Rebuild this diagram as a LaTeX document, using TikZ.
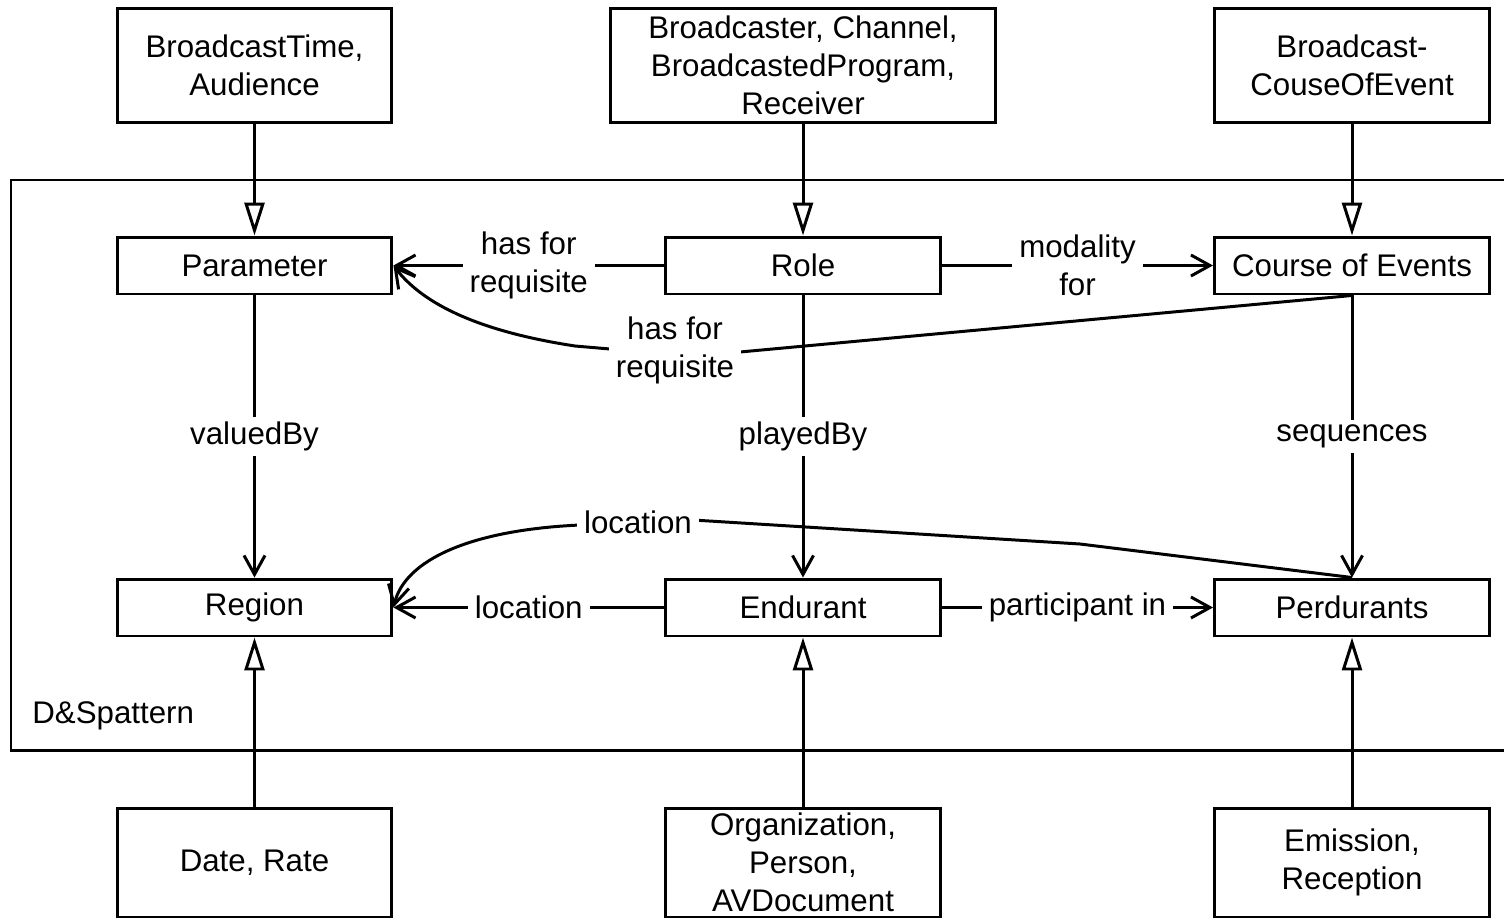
\documentclass[tikz,border=0pt]{standalone}
\usepackage{fontspec}
\setmainfont{Liberation Sans}
\usetikzlibrary{arrows.meta}
\tikzset{
  box/.style={draw, minimum width=5.5cm, minimum height=1.14cm, inner sep=0pt, align=center},
  tallbox/.style={box, minimum height=2.3cm},
  lbl/.style={fill=white, inner xsep=4pt, inner ysep=3pt, align=center},
  rel/.style={-{Straight Barb[length=0.38cm,width=0.42cm]}},
  isa/.style={-{Triangle[open,length=0.66cm,width=0.4cm]}},
}
\begin{document}
\begin{tikzpicture}[x=0.02cm, y=-0.02cm, line width=1.7pt,
    font=\fontsize{17.8}{21.8}\selectfont]
      \useasboundingbox (0,0) rectangle (1504,919);
      % pattern frame
      \draw (1504,180) -- (11,180) -- (11,750) -- (1504,750);
      \node[anchor=base west] (dsp) at (25,723) {D\&Spattern};
      \path
        (254.5,65.5) node[tallbox] (ta){BroadcastTime,\\Audience}
        (803,65.5) node[tallbox, minimum width=7.72cm] (tb){Broadcaster, Channel,\\BroadcastedProgram,\\Receiver}
        (1352,65.5) node[tallbox] (tc){Broadcast-\\CouseOfEvent}
        (254.5,265.5) node[box] (param){Parameter}
        (803,265.5) node[box] (role){Role}
        (1352,265.5) node[box] (coe){Course of Events}
        (254.5,607.5) node[box] (region){Region}
        (803,607.5) node[box] (endur){Endurant}
        (1352,607.5) node[box] (perd){Perdurants}
        (254.5,862.5) node[tallbox, minimum height=2.18cm] (ba){Date, Rate}
        (803,862.5) node[tallbox, minimum height=2.18cm] (bb){Organization,\\Person,\\AVDocument}
        (1352,862.5) node[tallbox, minimum height=2.18cm] (bc){Emission,\\Reception};
      \begin{scope}[isa]
        \draw (ta) to (param);
        \draw (tb) to (role);
        \draw (tc) to (coe);
        \draw (ba) to (region);
        \draw (bb) to (endur);
        \draw (bc) to (perd);
      \end{scope}
      \begin{scope}[rel]
        \draw (role) to node[lbl]{has for\\requisite} (param);
        \draw (role) to node[lbl]{modality\\for} (coe);
        \draw (param) to node[lbl]{valuedBy} (region);
        \draw (role) to node[lbl]{playedBy} (endur);
        \draw (coe) to node[lbl]{sequences} (perd);
        \draw (endur) to node[lbl]{location} (region);
        \draw (endur) to node[lbl]{participant in} (perd);
        \draw (coe.south) -- (740,352) -- node[lbl]{has for\\requisite} (610,349)
          -- (575,346) .. controls (470,330) and (420,300) .. (param.east);
        \draw (perd.north) -- (1080,544) -- (693,520) -- node[lbl]{location} (583,524)
          -- (580,525) .. controls (470,530) and (405,560) .. (region.east);
      \end{scope}
    \end{tikzpicture}
\end{document}
